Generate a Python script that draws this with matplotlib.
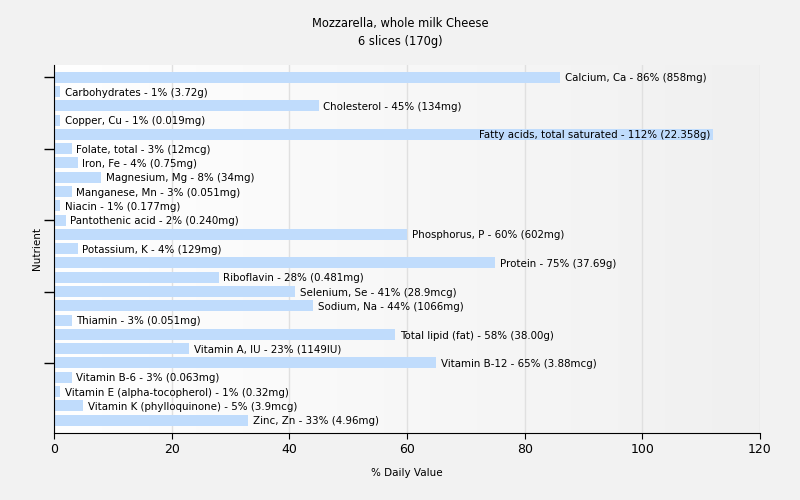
import numpy as np
import matplotlib
matplotlib.use("Agg")
import matplotlib.pyplot as plt

title = "Mozzarella, whole milk Cheese\n6 slices (170g)"

nutrients = [
    "Calcium, Ca", "Carbohydrates", "Cholesterol", "Copper, Cu",
    "Fatty acids, total saturated", "Folate, total", "Iron, Fe",
    "Magnesium, Mg", "Manganese, Mn", "Niacin", "Pantothenic acid",
    "Phosphorus, P", "Potassium, K", "Protein", "Riboflavin",
    "Selenium, Se", "Sodium, Na", "Thiamin", "Total lipid (fat)",
    "Vitamin A, IU", "Vitamin B-12", "Vitamin B-6",
    "Vitamin E (alpha-tocopherol)", "Vitamin K (phylloquinone)", "Zinc, Zn",
]
percents = [86, 1, 45, 1, 112, 3, 4, 8, 3, 1, 2, 60, 4, 75, 28,
            41, 44, 3, 58, 23, 65, 3, 1, 5, 33]
amounts = ["858mg", "3.72g", "134mg", "0.019mg", "22.358g", "12mcg", "0.75mg",
           "34mg", "0.051mg", "0.177mg", "0.240mg", "602mg", "129mg", "37.69g",
           "0.481mg", "28.9mcg", "1066mg", "0.051mg", "38.00g", "1149IU",
           "3.88mcg", "0.063mg", "0.32mg", "3.9mcg", "4.96mg"]

fig = plt.figure(figsize=(8, 5), dpi=100, facecolor="#f2f2f2")
ax = fig.add_axes([0.0675, 0.134, 0.8825, 0.736])

# plot area: white on the left fading to light grey on the right
grad = np.linspace(0, 1, 256).reshape(1, -1)
cmap = matplotlib.colors.LinearSegmentedColormap.from_list("bg", ["#ffffff", "#f0f0f0"])
ax.imshow(grad, extent=[0, 1, 0, 1], transform=ax.transAxes, cmap=cmap,
          aspect="auto", zorder=0)

y = np.arange(len(nutrients))
ax.barh(y, percents, height=0.77, color="#c0dcfc", zorder=2)

for yi, name, p, amt in zip(y, nutrients, percents, amounts):
    label = f"{name} - {p}% ({amt})"
    if p > 100:
        ax.text(p - 0.4, yi + 0.08, label, ha="right", va="center", fontsize=7.35, zorder=3)
    else:
        ax.text(p + 0.8, yi + 0.08, label, ha="left", va="center", fontsize=7.35, zorder=3)

ax.set_xlim(0, 120)
ax.set_ylim(24.9, -0.85)
ax.set_xticks(range(0, 121, 20))
ax.set_yticks([0, 5, 10, 15, 20])
ax.set_yticklabels([])
ax.tick_params(axis="y", length=7, width=1)
ax.tick_params(axis="x", length=4, labelsize=9)
ax.grid(axis="x", color="#e0e0e0", linewidth=1, zorder=1)
ax.set_axisbelow(True)
for s in ["top", "right"]:
    ax.spines[s].set_visible(False)

ax.set_xlabel("% Daily Value", fontsize=7.5, labelpad=8)
ax.set_ylabel("Nutrient", fontsize=7.5, labelpad=-2)
fig.suptitle(title, fontsize=8.3, y=0.965, linespacing=1.45)

fig.savefig("out.png", dpi=100, facecolor=fig.get_facecolor())
